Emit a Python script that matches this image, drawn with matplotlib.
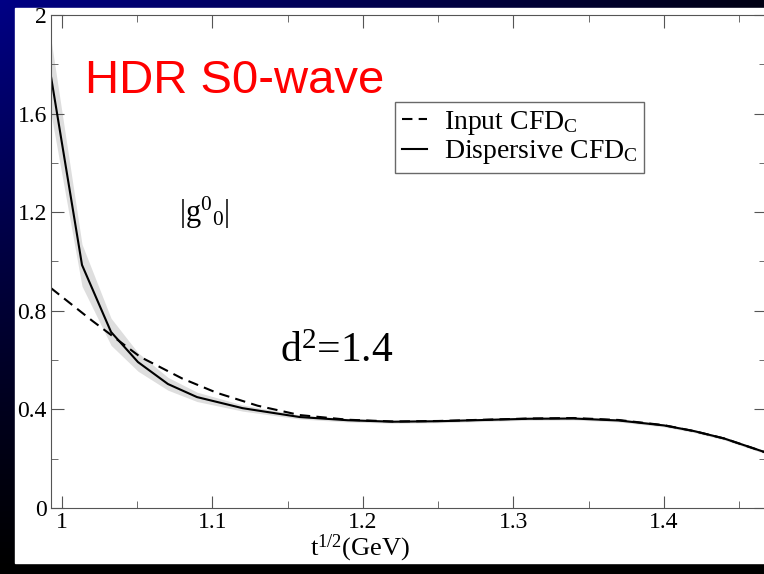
import numpy as np
import matplotlib
matplotlib.use("Agg")
import matplotlib.pyplot as plt
from matplotlib.ticker import MultipleLocator

plt.rcParams["font.family"] = ["Liberation Serif", "DejaVu Serif"]
plt.rcParams["mathtext.fontset"] = "custom"
plt.rcParams["mathtext.rm"] = "Liberation Serif"
plt.rcParams["mathtext.it"] = "Liberation Serif:italic"

# ---- data ----
disp_x = [0.9927, 1.0133, 1.0326, 1.0505, 1.0704, 1.0897, 1.12, 1.158, 1.19, 1.22,
          1.25, 1.28, 1.31, 1.34, 1.37, 1.40, 1.42, 1.44, 1.4678]
disp_y = [1.75, 0.986, 0.714, 0.592, 0.503, 0.45, 0.405, 0.369, 0.356, 0.350,
          0.352, 0.357, 0.362, 0.363, 0.355, 0.335, 0.312, 0.282, 0.225]
band_lo = [1.60, 0.90, 0.66, 0.555, 0.478, 0.432, 0.393, 0.361, 0.349, 0.344,
           0.346, 0.351, 0.356, 0.357, 0.349, 0.329, 0.306, 0.276, 0.219]
band_hi = [1.90, 1.07, 0.77, 0.63, 0.53, 0.47, 0.418, 0.377, 0.363, 0.356,
           0.358, 0.363, 0.368, 0.369, 0.361, 0.341, 0.318, 0.288, 0.231]

inp_x = [0.9927, 1.02, 1.052, 1.08, 1.103, 1.13, 1.158, 1.19, 1.22, 1.25, 1.28,
         1.31, 1.34, 1.37, 1.40, 1.42, 1.44, 1.4678]
inp_y = [0.892, 0.76, 0.613, 0.525, 0.467, 0.415, 0.377, 0.358, 0.351, 0.353, 0.358,
         0.363, 0.365, 0.357, 0.336, 0.312, 0.282, 0.225]

fig = plt.figure(figsize=(7.64, 5.74), dpi=100)

# slide background: blue fading to black
bg = fig.add_axes([0, 0, 1, 1])
gx, gy = np.meshgrid(np.linspace(0, 1, 200), np.linspace(0, 1, 200))
blue = 0.52 * (1 - gy) ** 1.2 * (1 - 0.85 * gx)
img = np.zeros((200, 200, 3))
img[..., 2] = np.clip(blue, 0, 1)
bg.imshow(img, extent=[0, 1, 0, 1], origin="upper", aspect="auto")
bg.add_patch(plt.Rectangle((15 / 764, 1 - 563 / 574), 1, (563 - 8) / 574,
                           color="white", transform=bg.transAxes))
bg.set_axis_off()

ax = fig.add_axes([51 / 764, 1 - 508 / 574, (766 - 51) / 764, (508 - 15) / 574])
ax.fill_between(disp_x, band_lo, band_hi, color="#dedede", lw=0)
ax.plot(inp_x, inp_y, color="black", lw=1.5, ls=(0, (5, 3)), label=r"Input CFD$_\mathrm{C}$")
ax.plot(disp_x, disp_y, color="black", lw=1.5, label=r"Dispersive CFD$_\mathrm{C}$")

ax.set_xlim(0.9927, 1.4678)
ax.set_ylim(0, 2)
ax.xaxis.set_major_locator(MultipleLocator(0.1))
ax.xaxis.set_minor_locator(MultipleLocator(0.05))
ax.yaxis.set_major_locator(MultipleLocator(0.4))
ax.yaxis.set_minor_locator(MultipleLocator(0.2))
ax.set_xticks([1, 1.1, 1.2, 1.3, 1.4])
ax.set_xticklabels(["1", "1.1", "1.2", "1.3", "1.4"])
ax.set_yticks([0, 0.4, 0.8, 1.2, 1.6, 2])
ax.set_yticklabels(["0", "0.4", "0.8", "1.2", "1.6", "2"])
ax.tick_params(which="both", direction="in", top=True, right=True, labelsize=17,
               color="#555555", pad=3)
ax.tick_params(which="major", length=9)
ax.tick_params(which="minor", length=5)
for s in ax.spines.values():
    s.set_color("#555555")
ax.set_xlabel(r"t$^{1/2}$(GeV)", fontsize=19)
ax.xaxis.set_label_coords(0.432, -0.05)

leg = ax.legend(loc="upper left", bbox_to_anchor=(0.481, 0.8235), fontsize=20,
                handlelength=0.9, handletextpad=0.6, borderpad=0.25,
                labelspacing=0.05, borderaxespad=0, frameon=True, fancybox=False)
leg.get_frame().set_edgecolor("#444444")
leg.get_frame().set_linewidth(1.0)

ax.text(1.0153, 1.684, "HDR S0-wave", color="red", fontsize=34,
        family=["Liberation Sans", "DejaVu Sans"])
ax.text(1.078, 1.16, r"$|\mathrm{g}^{0}{}_{0}|$", fontsize=22)
ax.text(1.145, 0.592, r"$\mathrm{d}^{2}$=1.4", fontsize=30)

fig.savefig("out.png", dpi=100)
